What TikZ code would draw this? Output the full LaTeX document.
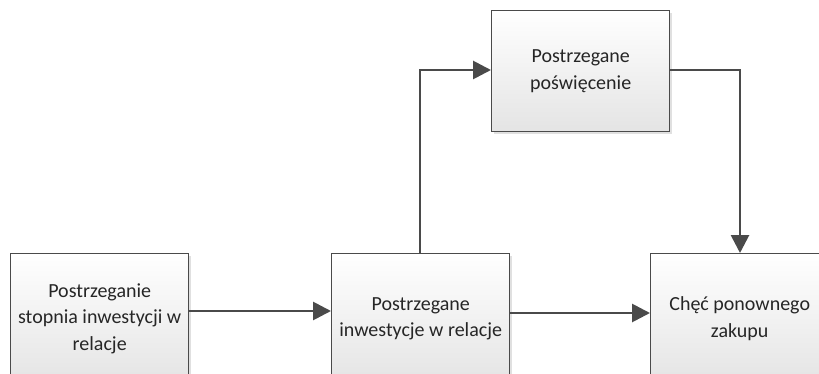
\documentclass[tikz,border=0pt]{standalone}
\usepackage{fontspec}
\setmainfont{Carlito}
\usetikzlibrary{arrows.meta,shadows}
\definecolor{edge}{HTML}{4A4A4A}
\definecolor{ink}{HTML}{262626}
\definecolor{boxlow}{HTML}{E4E4E4}
\tikzset{
  block/.style={draw=edge, line width=1.4pt, top color=white, bottom color=boxlow,
    minimum width=178pt, minimum height=121pt, inner sep=0pt, anchor=north west,
    align=center, font=\fontsize{20}{26.5}\selectfont, text=ink,
    drop shadow={shadow xshift=2pt, shadow yshift=-2pt, fill=black, opacity=0.12}},
  lowblock/.style={block, minimum height=130pt},
  link/.style={draw=edge, line width=2.8pt,
    -{Triangle[length=18pt,width=18pt]}}
}
\begin{document}
\begin{tikzpicture}[x=1pt,y=-1pt]
  \useasboundingbox (0,0) rectangle (819,374);
  \clip (0,0) rectangle (819,374);
  \node[lowblock] (pst) at (10,253) {Postrzeganie\\stopnia inwestycji w\\relacje};
  \node[lowblock] (pir) at (331,253) {Postrzegane\\inwestycje w relacje};
  \node[block] (pp)  at (491,10)  {Postrzegane\\poświęcenie};
  \node[lowblock] (cpz) at (650,253) {Chęć ponownego\\zakupu};
  \coordinate (up)   at (420,70);
  \coordinate (down) at (740,70);
  \draw[link] (pst.east |- 0,311) -- (pir.west |- 0,311);
  \draw[link] (pir.east |- 0,313) -- (cpz.west |- 0,313);
  \draw[link] (pir.north -| up) -- (up) -- (pp.west |- up);
  \draw[link] (pp.east |- down) -- (down) -- (cpz.north -| down);
\end{tikzpicture}
\end{document}
